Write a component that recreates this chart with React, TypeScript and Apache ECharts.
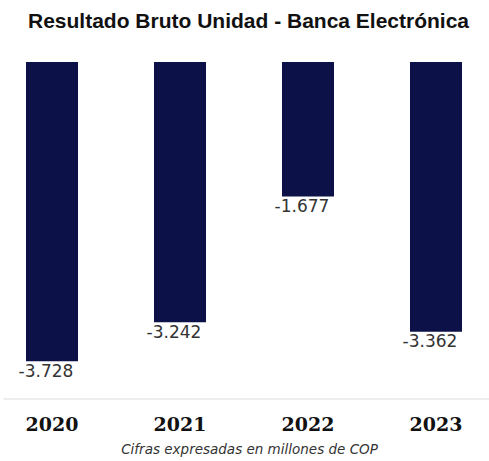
import React, { useEffect, useRef } from "react";
import * as echarts from "echarts";

const categories = ["2020", "2021", "2022", "2023"];
const values = [-3728, -3242, -1677, -3362];
const titleText = "Resultado Bruto Unidad - Banca Electrónica";
const footerText = "Cifras expresadas en millones de COP";

const SHIFT = 12.5; // chart canvas starts left of the page

function fmt(v: number): string {
  const s = Math.abs(v).toString().replace(/\B(?=(\d{3})+(?!\d))/g, ".");
  return (v < 0 ? "-" : "") + s;
}

export default function App() {
  const ref = useRef<HTMLDivElement>(null);
  useEffect(() => {
    if (!ref.current) return;
    const chart = echarts.init(ref.current, null, { renderer: "svg" });
    chart.setOption({
      animation: false,
      backgroundColor: "#ffffff",
      grid: { left: 0, right: 0, top: 62, height: 337 },
      xAxis: {
        type: "category",
        data: categories,
        position: "bottom",
        axisLine: { show: false, onZero: false },
        axisTick: { show: false },
        axisLabel: {
          margin: 15,
          fontFamily: "DejaVu Serif, serif",
          fontWeight: "bold",
          fontSize: 19,
          color: "#111111",
        },
      },
      yAxis: {
        type: "value",
        min: -4200,
        max: 0,
        show: false,
        splitLine: { show: false },
      },
      series: [
        {
          type: "bar",
          data: values,
          barWidth: 52,
          itemStyle: { color: "#0c1248" },
          label: {
            show: true,
            position: "bottom",
            distance: 1,
            offset: [-6, 0],
            formatter: (p: any) => fmt(p.value),
            fontFamily: "DejaVu Sans, Verdana, sans-serif",
            fontSize: 17,
            color: "#333333",
          },
        },
      ],
      graphic: [
        {
          type: "text",
          x: 248 + SHIFT,
          y: 20,
          style: {
            text: titleText,
            align: "center",
            verticalAlign: "middle",
            fontFamily: "Liberation Sans, Arial, sans-serif",
            fontWeight: "bold",
            fontSize: 21,
            fill: "#111111",
          },
        },
        {
          type: "line",
          shape: { x1: 3 + SHIFT, y1: 399, x2: 489 + SHIFT, y2: 399 },
          style: { stroke: "#dddddd", lineWidth: 1 },
        },
        {
          type: "text",
          x: 249 + SHIFT,
          y: 449,
          style: {
            text: footerText,
            align: "center",
            verticalAlign: "middle",
            fontFamily: "DejaVu Sans, Verdana, sans-serif",
            fontStyle: "italic",
            fontSize: 13.5,
            fill: "#333333",
          },
        },
      ],
    });
    return () => chart.dispose();
  }, []);
  return (
    <div
      style={{
        position: "fixed",
        left: 0,
        top: 0,
        width: 489,
        height: 461,
        overflow: "hidden",
        background: "#ffffff",
      }}
    >
      <div
        ref={ref}
        style={{ position: "absolute", left: -SHIFT, top: 0, width: 512, height: 461 }}
      />
    </div>
  );
}
